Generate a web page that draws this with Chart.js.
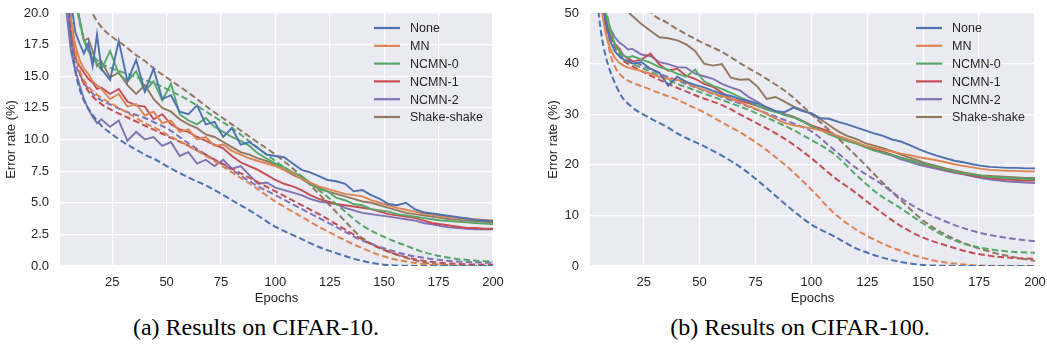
<!DOCTYPE html>
<html>
<head>
<meta charset="utf-8">
<script src="https://cdn.jsdelivr.net/npm/chart.js@4.4.0/dist/chart.umd.min.js"></script>
<style>
  body { margin: 0; background: #fff; width: 1047px; height: 354px; position: relative; overflow: hidden; }
  .box { position: absolute; top: 0; height: 310px; }
  #box10 { left: 0; width: 510px; }
  #box100 { left: 530px; width: 517px; }
  .caption { position: absolute; top: 313px; font-family: "Liberation Serif", "Times New Roman", serif;
             font-size: 24px; line-height: 28px; color: #000; transform: translateX(-50%); white-space: nowrap; }
</style>
</head>
<body>
<div class="box" id="box10"><canvas id="cifar10" width="510" height="310"></canvas></div>
<div class="box" id="box100"><canvas id="cifar100" width="517" height="310"></canvas></div>
<div class="caption" style="left:256px">(a) Results on CIFAR-10.</div>
<div class="caption" style="left:800px">(b) Results on CIFAR-100.</div>
<script>
// Series names and colours (seaborn deep)
const methods = ['None', 'MN', 'NCMN-0', 'NCMN-1', 'NCMN-2', 'Shake-shake'];
const colors = ['#4C72B0', '#DD8452', '#55A868', '#C44E52', '#8172B3', '#937860'];

const xTicks = [25, 50, 75, 100, 125, 150, 175, 200];
const yTicks10 = [0, 2.5, 5, 7.5, 10, 12.5, 15, 17.5, 20];
const yTicks100 = [0, 10, 20, 30, 40, 50];

// epochs at which values were read
const testEpochs = [4, 6, 8, 10, 12, 14, 16, 18, 20,
  24, 28, 32, 36, 40, 44, 48, 52, 56, 60,
  64, 68, 72, 76, 80, 84, 88, 92, 96, 100,
  104, 108, 112, 116, 120, 124, 128, 132, 136, 140,
  144, 148, 152, 156, 160, 164, 168, 172, 176, 180,
  184, 188, 192, 196, 200];
const trainEpochs = [3, 4, 5, 6, 7, 8, 10, 12, 15, 20, 25, 30, 35, 40, 45, 50,
  60, 70, 80, 90, 100, 110, 120, 130, 140, 150, 160, 170, 180, 190, 200];

// ---- CIFAR-10 test error (solid) ----
const c10TestNone = [26, 21, 18.5, 17.6, 16.8, 17.6, 15.8, 18.3, 15.6,
  14.7, 17.8, 14.6, 16.3, 13.8, 15.6, 13.2, 13.5, 12.2, 12.0,
  12.7, 11.2, 11.4, 10.2, 10.9, 9.6, 9.8, 9.3, 8.8, 8.7,
  8.6, 8.1, 7.6, 7.4, 7.1, 6.8, 6.7, 6.5, 5.9, 6.0,
  5.6, 5.3, 4.9, 4.8, 5.0, 4.5, 4.25, 4.15, 4.05, 3.95,
  3.85, 3.75, 3.65, 3.6, 3.55];
const c10TestMN = [24, 19.5, 17.5, 16.3, 15.6, 15.2, 14.6, 14.3, 14.0,
  13.2, 13.6, 12.6, 12.8, 11.9, 12.2, 11.3, 11.5, 10.6, 10.8,
  10.0, 10.2, 9.5, 9.6, 9.1, 8.8, 8.5, 8.3, 8.1, 7.9,
  7.6, 7.3, 6.9, 6.6, 6.3, 6.1, 5.9, 5.7, 5.6, 5.5,
  5.2, 5.0, 4.8, 4.6, 4.45, 4.3, 4.15, 4.05, 3.95, 3.85,
  3.8, 3.75, 3.7, 3.65, 3.6];
const c10TestN0 = [30, 24, 21, 19.5, 17.8, 17.0, 16.4, 16.0, 15.5,
  17.0, 15.2, 14.6, 15.4, 13.8, 14.6, 13.1, 14.4, 12.0, 11.5,
  11.2, 11.7, 11.0, 10.6, 10.2, 9.9, 9.5, 8.9, 8.5, 8.1,
  7.8, 7.4, 7.1, 6.6, 6.2, 5.9, 5.4, 5.2, 4.9, 4.8,
  4.5, 4.4, 4.3, 4.1, 4.0, 3.9, 3.8, 3.7, 3.6, 3.55,
  3.5, 3.45, 3.4, 3.35, 3.3];
const c10TestN1 = [22, 18.5, 16.5, 15.8, 15.3, 14.8, 14.5, 14.0, 14.1,
  13.6, 14.0, 13.0, 12.7, 12.6, 11.6, 12.0, 11.2, 10.8, 10.6,
  10.2, 9.9, 9.6, 9.3, 8.7, 8.2, 7.9, 7.6, 7.2, 6.8,
  6.5, 6.3, 6.0, 5.6, 5.3, 5.1, 4.9, 4.8, 4.7, 4.6,
  4.5, 4.3, 4.1, 4.0, 3.9, 3.8, 3.6, 3.4, 3.3, 3.2,
  3.1, 3.0, 3.0, 2.95, 2.95];
const c10TestN2 = [20, 17, 15.5, 14.3, 13.2, 12.4, 11.8, 11.3, 11.6,
  11.0, 11.5, 9.9, 10.6, 10.0, 10.2, 9.5, 9.8, 8.7, 9.0,
  8.1, 8.4, 7.9, 8.4, 7.7, 7.9, 7.2, 6.5, 6.6, 6.2,
  6.0, 5.8, 5.6, 5.3, 5.1, 5.0, 4.9, 4.6, 4.4, 4.2,
  4.1, 4.0, 3.9, 3.8, 3.7, 3.6, 3.4, 3.3, 3.15, 3.05,
  3.0, 2.95, 2.9, 2.9, 2.9];
const c10TestShake = [30, 25, 21.5, 19.5, 17.8, 18.0, 17.0, 15.8, 16.2,
  14.9, 15.3, 14.3, 13.6, 14.3, 13.2, 12.5, 12.2, 11.6, 11.2,
  10.9, 10.4, 10.2, 9.8, 9.4, 9.0, 8.8, 8.5, 8.3, 8.0,
  7.6, 7.2, 6.9, 6.5, 6.1, 5.9, 5.7, 5.5, 5.3, 5.1,
  5.0, 4.8, 4.6, 4.4, 4.2, 4.1, 4.0, 3.9, 3.8, 3.7,
  3.65, 3.6, 3.55, 3.5, 3.45];

// ---- CIFAR-10 train error (dashed) ----
const c10TrainNone = [27, 23, 20, 18, 16.5, 15.4, 14.0, 13.1, 12.2, 11.1, 10.4, 9.8, 9.3, 8.8, 8.4, 7.9,
  7.0, 6.2, 5.2, 4.2, 3.1, 2.3, 1.5, 0.9, 0.4, 0.1, 0.02, 0, 0, 0, 0];
const c10TrainMN = [30, 26, 22.5, 20, 18.3, 17, 15.5, 14.7, 14.0, 13.3, 12.8, 12.3, 11.8, 11.3, 10.9, 10.4,
  9.5, 8.5, 7.4, 6.3, 5.1, 4.1, 3.1, 2.2, 1.4, 0.75, 0.35, 0.12, 0.03, 0, 0];
const c10TrainN0 = [40, 34, 29, 26, 23.5, 21.5, 19.3, 18.0, 16.9, 16.0, 15.6, 15.3, 15.0, 14.7, 14.4, 14.0,
  13.1, 12.0, 10.9, 9.6, 8.3, 7.1, 6.0, 4.6, 3.2, 2.3, 1.6, 1.0, 0.65, 0.45, 0.35];
const c10TrainN1 = [30, 25, 21.5, 19.5, 18, 17, 15.3, 14.4, 13.6, 12.8, 12.3, 11.9, 11.5, 11.1, 10.7, 10.3,
  9.5, 8.6, 7.7, 6.8, 5.9, 5.0, 4.1, 3.1, 2.1, 1.25, 0.7, 0.35, 0.2, 0.12, 0.1];
const c10TrainN2 = [28, 23, 20, 18, 16.8, 16.0, 15.2, 14.5, 13.8, 13.1, 12.7, 12.3, 12.0, 11.7, 11.3, 10.9,
  9.7, 8.6, 7.6, 6.5, 5.6, 4.7, 3.8, 2.9, 2.0, 1.4, 0.9, 0.6, 0.4, 0.3, 0.25];
const c10TrainShake = [45, 40, 36, 33, 30.5, 28.5, 24, 21.8, 20.3, 18.9, 18.1, 17.5, 16.8, 16.2, 15.5, 14.9,
  13.7, 12.4, 11.2, 10.0, 8.8, 7.4, 5.7, 3.9, 2.2, 1.3, 0.65, 0.22, 0.05, 0, 0];

// ---- CIFAR-100 test error (solid) ----
const c100TestNone = [62, 54, 48, 44.5, 42.5, 41.5, 40.8, 40.5, 40.0,
  40.3, 39.0, 38.2, 35.6, 37.4, 36.4, 35.8, 35.3, 34.6, 34.0,
  33.6, 33.0, 32.6, 32.1, 31.4, 30.6, 30.4, 31.3, 30.6, 30.2,
  29.2, 29.1, 28.5, 28.0, 27.4, 26.8, 26.2, 25.7, 25.0, 24.6,
  23.9, 23.1, 22.4, 21.8, 21.3, 20.8, 20.5, 20.1, 19.8, 19.6,
  19.5, 19.4, 19.4, 19.3, 19.3];
const c100TestMN = [60, 51, 46, 43, 41.2, 40.2, 39.6, 39.2, 39.0,
  38.5, 38.0, 37.4, 37.0, 36.8, 36.3, 35.4, 34.8, 34.1, 33.6,
  33.1, 32.4, 31.6, 30.9, 30.0, 29.1, 28.3, 27.8, 27.5, 27.2,
  26.8, 26.3, 25.7, 25.1, 24.5, 23.8, 23.4, 23.0, 22.6, 22.2,
  21.9, 21.5, 21.2, 20.9, 20.5, 20.1, 19.8, 19.5, 19.2, 19.0,
  18.9, 18.8, 18.8, 18.7, 18.7];
const c100TestN0 = [68, 57, 50, 46.5, 44, 42.5, 41.6, 41.2, 41.5,
  40.8, 40.2, 39.3, 38.8, 38.0, 37.4, 38.8, 36.5, 35.6, 35.0,
  34.2, 33.4, 32.6, 31.6, 30.9, 30.4, 29.9, 29.4, 28.6, 27.6,
  26.9, 26.0, 25.3, 24.7, 24.2, 23.5, 22.8, 22.4, 21.9, 21.4,
  20.9, 20.4, 20.0, 19.6, 19.1, 18.7, 18.3, 18.1, 17.8, 17.6,
  17.5, 17.4, 17.3, 17.2, 17.2];
const c100TestN1 = [64, 55, 49, 45.5, 44.0, 43.0, 41.6, 41.0, 40.4,
  40.8, 42.0, 39.8, 38.6, 39.0, 37.6, 37.0, 36.0, 35.4, 34.3,
  33.0, 32.6, 32.2, 31.6, 31.0, 30.5, 30.0, 29.5, 28.7, 27.8,
  27.2, 26.6, 25.4, 24.8, 24.3, 23.7, 23.0, 22.6, 22.0, 21.4,
  20.9, 20.4, 19.9, 19.5, 19.0, 18.6, 18.2, 17.9, 17.6, 17.4,
  17.2, 17.1, 17.0, 16.9, 16.9];
const c100TestN2 = [66, 56, 50, 47, 45.3, 44.2, 43.6, 42.8, 42.9,
  41.8, 41.5, 40.3, 39.9, 39.3, 39.2, 38.0, 37.5, 37.0, 36.0,
  35.3, 34.7, 33.4, 32.4, 31.3, 30.6, 29.8, 29.4, 28.6, 27.6,
  27.0, 26.2, 25.6, 24.9, 24.4, 23.5, 22.9, 22.3, 21.8, 21.1,
  20.6, 20.0, 19.6, 19.2, 18.8, 18.4, 18.1, 17.7, 17.4, 17.1,
  16.9, 16.7, 16.6, 16.5, 16.4];
const c100TestShake = [75, 68, 62, 58, 55, 53, 51.5, 50.2, 49.4,
  47.8, 46.5, 45.2, 45.0, 44.6, 43.8, 42.5, 40.0, 39.6, 39.9,
  37.2, 36.8, 36.9, 35.4, 33.0, 33.4, 32.5, 31.5, 30.8, 30.0,
  29.0, 27.8, 26.6, 25.7, 25.1, 24.3, 23.8, 23.3, 22.7, 22.0,
  21.4, 20.8, 20.2, 19.8, 19.3, 18.9, 18.5, 18.2, 17.9, 17.8,
  17.7, 17.6, 17.5, 17.4, 17.4];

// ---- CIFAR-100 train error (dashed) ----
const c100TrainNone = [60, 54, 49.5, 46, 43.5, 41.5, 38.5, 36.3, 33.6, 31.3, 29.9, 28.7, 27.6, 26.2, 25.1, 24.1,
  21.8, 19.0, 15.4, 11.6, 8.2, 5.9, 3.5, 1.9, 0.8, 0.2, 0.05, 0, 0, 0, 0];
const c100TrainMN = [70, 62, 56, 52, 49.5, 47, 42, 39.5, 37.6, 36.2, 35.4, 34.5, 33.7, 32.9, 31.8, 30.8,
  28.4, 25.9, 22.9, 19.3, 15.1, 10.5, 7.2, 4.8, 3.0, 1.6, 0.7, 0.25, 0.05, 0, 0];
const c100TrainN0 = [80, 72, 64, 58, 54, 51, 47, 44, 41.5, 40, 39, 38, 37, 36, 35.2, 34.4,
  32.8, 31.2, 29.3, 27.3, 24.9, 22.2, 18.0, 14.2, 11.4, 8.4, 5.8, 4.2, 3.3, 2.8, 2.6];
const c100TrainN1 = [78, 70, 62, 57, 53, 50, 46, 43.5, 41, 39.5, 38.3, 37.2, 36.2, 35.2, 34.3, 33.4,
  31.8, 29.5, 27.2, 24.6, 21.3, 17.6, 14.4, 11.0, 7.9, 5.6, 4.1, 2.8, 2.0, 1.6, 1.4];
const c100TrainN2 = [76, 68, 61, 56, 51, 48, 45, 43.5, 42, 40.5, 39.5, 38.5, 37.5, 36.7, 35.8, 35,
  33.4, 31.8, 30.2, 28.5, 26.6, 23.0, 19.4, 16.6, 13.4, 10.8, 8.8, 7.2, 6.1, 5.4, 4.9];
const c100TrainShake = [95, 90, 86, 82, 78, 75, 70, 65, 60, 56, 52, 49.4, 48.2, 46.8, 45.6, 44.4,
  42.3, 39.6, 37, 34, 30, 26, 21.8, 17.3, 13.0, 9.0, 6.2, 4.2, 2.8, 1.8, 1.0];

const textColor = '#262626';
const fontFamily = '"Liberation Sans", Arial, sans-serif';

const bgPlugin = {
  id: 'darkgrid',
  beforeDraw(chart) {
    const { ctx, chartArea: a } = chart;
    ctx.save();
    ctx.fillStyle = '#EAEAF2';
    ctx.fillRect(a.left, a.top, a.right - a.left, a.bottom - a.top);
    ctx.restore();
  }
};

// legend drawn inside the plot, top right, from the labelled (solid) datasets
const innerLegend = {
  id: 'innerLegend',
  afterDraw(chart) {
    const { ctx, chartArea: a } = chart;
    const items = chart.data.datasets.filter(d => d.label);
    ctx.save();
    ctx.font = '12.5px ' + fontFamily;
    ctx.textBaseline = 'middle';
    items.forEach((d, i) => {
      const y = a.top + 15 + i * 17.8;
      const x0 = a.right - 119;
      ctx.strokeStyle = d.borderColor;
      ctx.lineWidth = 2.2;
      ctx.beginPath();
      ctx.moveTo(x0, y);
      ctx.lineTo(x0 + 26, y);
      ctx.stroke();
      ctx.fillStyle = textColor;
      ctx.fillText(d.label, x0 + 36, y + 1);
    });
    ctx.restore();
  }
};

function points(epochs, values) {
  return epochs.map((e, i) => ({ x: e, y: values[i] }));
}

function buildDatasets(testSeries, trainSeries) {
  const sets = [];
  methods.forEach((name, i) => {
    sets.push({
      label: name,
      data: points(testEpochs, testSeries[i]),
      borderColor: colors[i],
      borderWidth: 1.9,
      pointRadius: 0,
      tension: 0
    });
    sets.push({
      label: '',
      data: points(trainEpochs, trainSeries[i]),
      borderColor: colors[i],
      borderWidth: 2.0,
      borderDash: [6.5, 3.2],
      pointRadius: 0,
      cubicInterpolationMode: 'monotone'
    });
  });
  return sets;
}

function makeChart(id, testSeries, trainSeries, yTicks, yMax, fmt, padRight, yTitlePad) {
  const ctx = document.getElementById(id).getContext('2d');
  return new Chart(ctx, {
    type: 'line',
    data: { datasets: buildDatasets(testSeries, trainSeries) },
    plugins: [bgPlugin, innerLegend],
    options: {
      responsive: false,
      animation: false,
      devicePixelRatio: 1,
      events: [],
      layout: { padding: { top: 13, right: padRight, left: 0, bottom: 0 } },
      plugins: { legend: { display: false }, tooltip: { enabled: false } },
      scales: {
        x: {
          type: 'linear',
          min: 1,
          max: 200,
          afterBuildTicks: s => { s.ticks = xTicks.map(v => ({ value: v })); },
          afterFit: s => { s.height = 44; s.paddingLeft = 0; s.paddingRight = 0; },
          grid: { color: '#ffffff', lineWidth: 1.2, drawTicks: false },
          border: { display: false },
          ticks: { color: textColor, font: { family: fontFamily, size: 13 }, padding: 9, maxRotation: 0, autoSkip: false },
          title: { display: true, text: 'Epochs', color: textColor, font: { family: fontFamily, size: 13 }, padding: { top: 0, bottom: 4 } }
        },
        y: {
          min: 0,
          max: yMax,
          afterBuildTicks: s => { s.ticks = yTicks.map(v => ({ value: v })); },
          afterFit: s => { s.width = 60; s.paddingTop = 0; s.paddingBottom = 0; },
          grid: { color: '#ffffff', lineWidth: 1.2, drawTicks: false },
          border: { display: false },
          ticks: { color: textColor, font: { family: fontFamily, size: 13 }, padding: 11, callback: fmt },
          title: { display: true, text: 'Error rate (%)', color: textColor, font: { family: fontFamily, size: 13 }, padding: { top: yTitlePad, bottom: 0 } }
        }
      }
    }
  });
}

makeChart('cifar10',
  [c10TestNone, c10TestMN, c10TestN0, c10TestN1, c10TestN2, c10TestShake],
  [c10TrainNone, c10TrainMN, c10TrainN0, c10TrainN1, c10TrainN2, c10TrainShake],
  yTicks10, 20, v => v.toFixed(1), 17, 4);

makeChart('cifar100',
  [c100TestNone, c100TestMN, c100TestN0, c100TestN1, c100TestN2, c100TestShake],
  [c100TrainNone, c100TrainMN, c100TrainN0, c100TrainN1, c100TrainN2, c100TrainShake],
  yTicks100, 50, v => String(v), 12, 16);
</script>
</body>
</html>
